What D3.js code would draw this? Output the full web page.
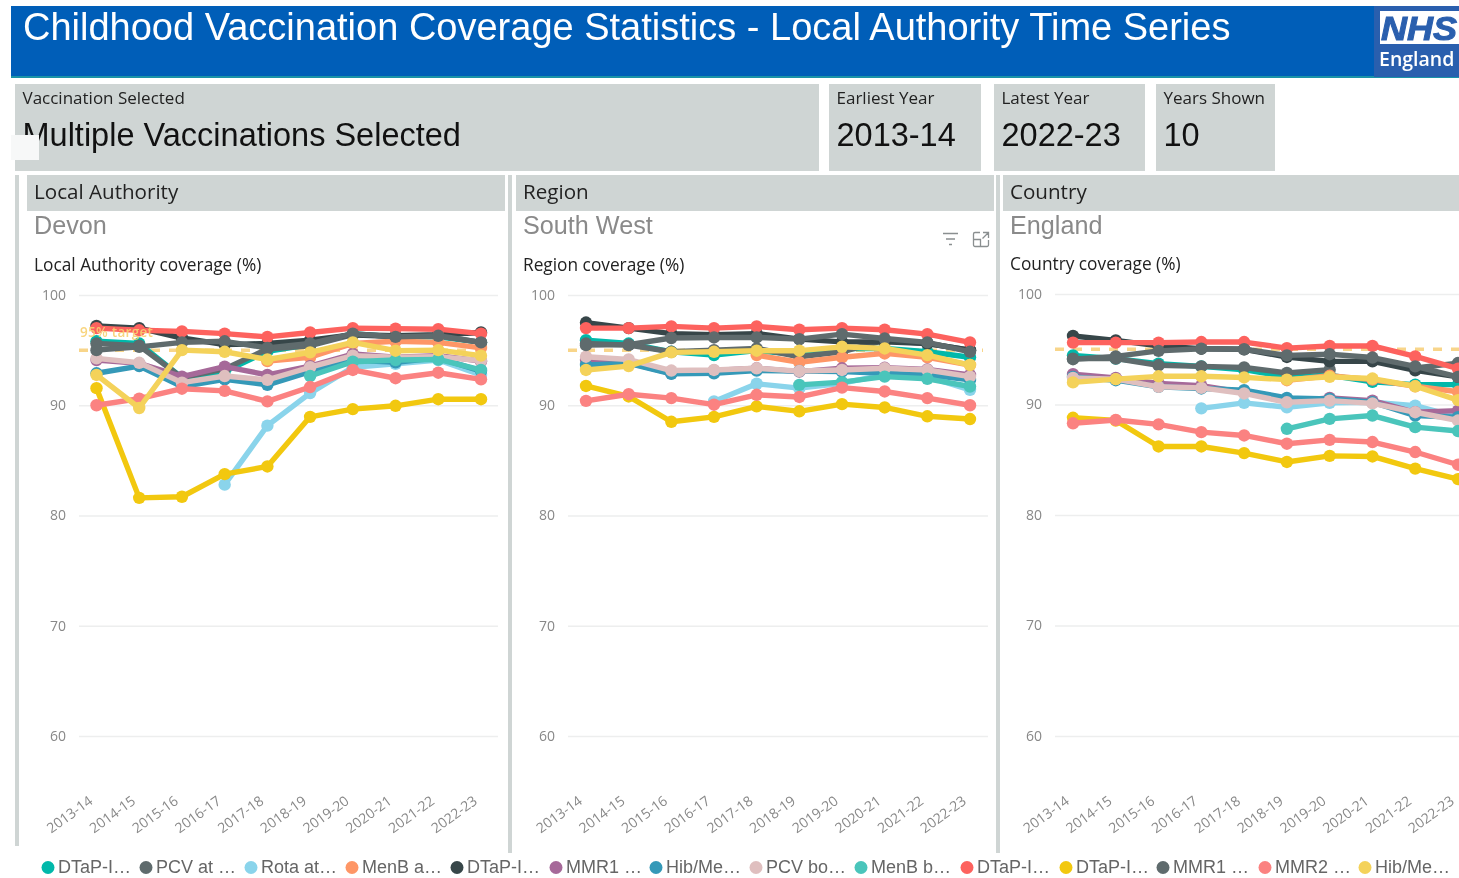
<!DOCTYPE html>
<html><head><meta charset="utf-8">
<style>html,body{margin:0;padding:0;background:#fff;overflow:hidden}svg{display:block;filter:blur(0.35px)}</style>
<script src="https://cdn.jsdelivr.net/npm/d3@7"></script></head>
<body><svg id="c" width="1459" height="878"></svg>
<script>
const years=["2013-14","2014-15","2015-16","2016-17","2017-18","2018-19","2019-20","2020-21","2021-22","2022-23"];
const seriesLabels=["DTaP-I…","PCV at …","Rota at…","MenB a…","DTaP-I…","MMR1 …","Hib/Me…","PCV bo…","MenB b…","DTaP-I…","DTaP-I…","MMR1 …","MMR2 …","Hib/Me…"];
const seriesColors=["#01B8AA","#5F6B6D","#8AD4EB","#FE9666","#374649","#A66999","#3599B8","#DFBFBF","#4AC5BB","#FD625E","#F2C80F","#5F6B6D","#FB8281","#F4D25A"];
const _=null;
const devon=[
[95.8,95.6,92.5,93.05,94.9,95.5,96.5,96.2,96.2,95.7],
[95.6,95.4,92.5,93.3,95.1,95.4,96.4,96.2,96.3,95.7],
[_,_,_,82.8,88.15,91.1,93.45,93.75,94.1,92.75],
[_,_,_,_,94.0,94.35,95.6,95.8,95.7,95.2],
[97.2,97.0,96.1,95.5,95.6,95.9,96.4,96.3,96.4,96.6],
[94.1,93.8,92.6,93.5,92.75,93.55,94.65,94.35,94.5,94.0],
[92.9,93.55,91.7,92.35,91.85,93.05,94.1,93.9,94.3,93.1],
[94.25,93.85,92.05,92.65,92.3,93.45,94.5,94.35,94.4,94.05],
[_,_,_,_,_,92.65,93.95,94.1,94.15,93.2],
[97.0,96.8,96.7,96.5,96.2,96.6,97.0,96.95,96.9,96.5],
[91.55,81.6,81.7,83.75,84.45,88.95,89.65,89.95,90.55,90.55],
[95.0,95.3,95.7,95.8,95.2,95.6,96.5,96.2,96.3,95.7],
[90.0,90.6,91.5,91.3,90.35,91.65,93.2,92.45,92.95,92.35],
[92.75,89.75,95.0,94.85,94.15,94.8,95.7,94.95,95.0,94.5]];
const southWest=[
[95.9,95.6,94.85,94.55,94.95,94.6,95.15,95.15,94.85,94.35],
[95.6,95.45,94.85,95.0,95.15,94.4,94.85,95.9,95.6,95.0],
[_,_,_,90.35,91.95,91.55,92.0,92.75,92.6,91.4],
[_,_,_,_,94.55,93.9,94.35,94.7,94.35,93.65],
[97.5,97.0,96.5,96.4,96.5,96.0,95.75,95.75,95.6,95.0],
[94.1,93.85,92.9,93.15,93.35,93.05,93.35,93.4,93.25,92.75],
[93.65,93.8,92.85,92.9,93.15,93.1,93.05,92.9,92.75,92.3],
[94.4,94.15,93.15,93.2,93.35,93.1,93.2,93.35,93.2,92.6],
[_,_,_,_,_,91.85,92.1,92.6,92.4,91.7],
[97.0,97.0,97.15,97.0,97.15,96.85,97.0,96.85,96.45,95.7],
[91.75,90.8,88.5,88.95,89.9,89.45,90.1,89.8,89.0,88.75],
[95.45,95.5,96.1,96.15,96.15,96.0,96.45,96.05,95.7,94.85],
[90.4,91.0,90.65,90.05,90.95,90.75,91.6,91.25,90.65,90.0],
[93.2,93.55,94.8,94.85,94.95,94.95,95.3,95.15,94.55,93.65]];
const england=[
[94.45,94.15,93.7,93.45,93.15,92.5,92.65,92.05,91.8,91.8],
[94.15,94.15,93.55,93.45,93.35,92.85,93.15,_,93.3,93.75],
[_,_,_,89.65,90.15,89.75,90.15,90.2,89.9,88.85],
[_,_,_,_,_,92.2,92.6,92.25,91.65,91.15],
[96.2,95.8,95.3,95.05,95.0,94.3,93.9,93.9,93.1,92.5],
[92.75,92.4,91.9,91.7,91.1,90.3,90.6,90.35,89.3,89.45],
[92.5,92.2,91.6,91.45,91.3,90.6,90.5,90.2,89.0,88.85],
[92.4,92.3,91.6,91.5,91.0,90.2,90.35,90.1,89.3,88.55],
[_,_,_,_,_,87.8,88.7,89.0,87.95,87.6],
[95.6,95.6,95.6,95.65,95.65,95.1,95.3,95.3,94.35,93.25],
[88.8,88.55,86.2,86.2,85.6,84.8,85.35,85.3,84.2,83.25],
[94.1,94.35,94.85,95.05,95.0,94.45,94.55,94.25,93.45,92.5],
[88.3,88.6,88.2,87.5,87.2,86.45,86.8,86.6,85.7,84.55],
[92.0,92.3,92.55,92.55,92.45,92.25,92.5,92.35,91.65,90.4]];
const yTicks=[60,70,80,90,100];
const targetValue=95;

const svg=d3.select("#c");
const segoe="'Open Sans','Noto Sans',sans-serif", arial="'Liberation Sans',Arial,sans-serif";
const grey="#CFD5D4";
function rect(x,y,w,h,f){return svg.append("rect").attr("x",x).attr("y",y).attr("width",w).attr("height",h).attr("fill",f);}
function text(x,y,s,size,fill,font,extra){const t=svg.append("text").attr("x",x).attr("y",y).text(s).attr("font-size",size).attr("fill",fill).attr("font-family",font);if(extra)extra(t);return t;}

// Header
rect(11,6,1448,71,"#005EB8");
rect(11,76,1448,2,"#1A93A8");
text(23,40,"Childhood Vaccination Coverage Statistics - Local Authority Time Series",38,"#fff",arial);
rect(1374,6,85,71,"#2A5FAE");
rect(1380,11,79,33,"#fff");
text(1381,40,"NHS",33,"#2A5FAE",arial,t=>t.attr("font-weight","bold").attr("font-style","italic").attr("textLength",76).attr("lengthAdjust","spacingAndGlyphs").attr("stroke","#2A5FAE").attr("stroke-width",1));
text(1379,66,"England",19.5,"#fff",segoe,t=>t.attr("font-weight","600"));

// Cards
[[15,804,"Vaccination Selected","Multiple Vaccinations Selected"],[829,152,"Earliest Year","2013-14"],[994,151,"Latest Year","2022-23"],[1156,119,"Years Shown","10"]]
.forEach(([x,w,a,b])=>{rect(x,84,w,87,grey);text(x+7.5,104,a,17,"#222",segoe);text(x+7.5,146,b,32.5,"#111",arial);});
rect(11,135,28,25,"#F7F8F8");

// Dividers
rect(15,175,4,671,grey);rect(508,175,4,678,grey);rect(996,175,4,678,grey);

// Panels
const panels=[
{x0:27,w:478,tx:34,head:"Local Authority",place:"Devon",sub:"Local Authority coverage (%)",data:devon,gl:79,gr:498,px0:96.5,px1:481,top:295,subY:270.5,target:[79,493]},
{x0:516,w:478,tx:523,head:"Region",place:"South West",sub:"Region coverage (%)",data:southWest,gl:568,gr:988,px0:586,px1:970,top:295,subY:270.5,target:[568,983]},
{x0:1003,w:456,tx:1010,head:"Country",place:"England",sub:"Country coverage (%)",data:england,gl:1055,gr:1459,px0:1073,px1:1458,top:294,subY:269.5,target:[1055,1459]}];

panels.forEach((p,pi)=>{
  rect(p.x0,175,p.w,36,grey);
  text(p.tx,198.5,p.head,20.6,"#222",segoe);
  text(p.tx,233.5,p.place,25.2,"#8a8a8a",arial);
  text(p.tx,p.subY,p.sub,17.3,"#222",segoe);
  const y=d3.scaleLinear().domain([60,100]).range([736,p.top]);
  const x=d3.scalePoint().domain(years).range([p.px0,p.px1]);
  const g=svg.append("g");
  const ya=g.append("g").attr("transform",`translate(${p.gl},0)`).call(d3.axisLeft(y).tickValues(yTicks).tickSize(-(p.gr-p.gl)).tickPadding(13));
  ya.select(".domain").remove();
  ya.selectAll("line").attr("stroke","#EDEEEE").attr("stroke-width",1.5);
  ya.selectAll("text").attr("fill","#888").attr("font-size",14).attr("font-family",segoe);
  const xa=g.append("g").attr("transform","translate(0,795)").call(d3.axisBottom(x).tickSize(0).tickPadding(0));
  xa.select(".domain").remove();
  xa.selectAll("text").attr("fill","#888").attr("font-size",14).attr("font-family",segoe)
    .attr("text-anchor","end").attr("dy","0.7em").attr("transform","translate(-9,0) rotate(-36)");
  // target
  g.append("line").attr("x1",p.target[0]).attr("x2",p.target[1]).attr("y1",y(targetValue)).attr("y2",y(targetValue))
    .attr("stroke","#F8D58A").attr("stroke-width",3.5).attr("stroke-dasharray","9 9");
  // series
  const line=d3.line().defined(d=>d.v!==null).x(d=>x(d.year)).y(d=>y(d.v));
  p.data.forEach((vals,i)=>{
    const pts=years.map((yr,j)=>({year:yr,v:vals[j]}));
    const s=g.append("g");
    s.append("path").datum(pts).attr("d",line).attr("fill","none").attr("stroke",seriesColors[i]).attr("stroke-width",5.4).attr("stroke-linejoin","round");
    s.selectAll("circle").data(pts.filter(d=>d.v!==null)).join("circle").attr("cx",d=>x(d.year)).attr("cy",d=>y(d.v)).attr("r",6.2).attr("fill",seriesColors[i]);
  });
  if(pi===0){
    text(p.gl+1,337,"95% target",13.5,"#F8D070",segoe,t=>t.attr("font-weight","600").attr("letter-spacing","0.3").attr("opacity",0.9));
  }
});

// Visual header icons
const ic=svg.append("g").attr("stroke","#8a8f90").attr("stroke-width",1.3).attr("fill","none");
ic.append("path").attr("d","M943 233.5H958M946 239H955M949 244.5H952");
ic.append("path").attr("d","M980 232.5H975a1.5 1.5 0 0 0-1.5 1.5V245a1.5 1.5 0 0 0 1.5 1.5H987a1.5 1.5 0 0 0 1.5-1.5V240M973.5 239.5H980.5V246.5M983 232.5H988.5V238M988.5 232.5L982.5 238.5");

// Legend
const legendX=[48,146,251,352,457,556,656,756,861,967,1066,1163,1265,1365];
seriesLabels.forEach((s,i)=>{
  svg.append("circle").attr("cx",legendX[i]).attr("cy",867.5).attr("r",6.5).attr("fill",seriesColors[i]);
  text(legendX[i]+10,872.5,s,18,"#666",arial);
});
</script></body></html>
